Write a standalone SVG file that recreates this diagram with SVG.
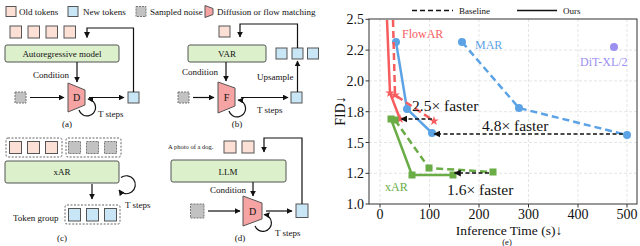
<svg xmlns="http://www.w3.org/2000/svg" width="640" height="246" viewBox="0 0 640 246">
<defs>
<style>
.t{font-family:"Liberation Serif",serif;font-size:9px;fill:#111}
.tc{font-family:"Liberation Serif",serif;font-size:9px;fill:#111;text-anchor:middle}
.old{fill:#fde0d5;stroke:#555;stroke-width:1}
.new{fill:#c8e6f6;stroke:#555;stroke-width:1}
.noise{fill:#c2c2c2;stroke:#777;stroke-width:1;stroke-dasharray:2 1}
.model{fill:#dcf0cc;stroke:#555;stroke-width:1}
.dm{fill:#f5a3a3;stroke:#555;stroke-width:1}
.grp{fill:none;stroke:#666;stroke-width:1;stroke-dasharray:2 1.5}
.ar{fill:none;stroke:#111;stroke-width:1.2;marker-end:url(#ah)}
.grid{stroke:#dedede;stroke-width:0.8;stroke-dasharray:3 2}
.tick{stroke:#333;stroke-width:1}
.ax{font-family:"Liberation Serif",serif;font-size:14px;fill:#111}
.axl{font-family:"Liberation Serif",serif;font-size:13.5px;fill:#111}
.big{font-family:"Liberation Serif",serif;font-size:15.5px;fill:#111}
.lab{font-family:"Liberation Serif",serif;font-size:12px}
.red{stroke:#f65d5f;stroke-width:2.5;fill:none}
.blue{stroke:#5ca3e6;stroke-width:2.5;fill:none}
.green{stroke:#6aac46;stroke-width:2.5;fill:none}
.dash{stroke-dasharray:7 4}
.carr{fill:none;stroke:#111;stroke-width:1.3;stroke-dasharray:4 2.5;marker-end:url(#ah2)}
</style>
<marker id="ah" viewBox="0 0 10 10" refX="9" refY="5" markerWidth="6" markerHeight="6" markerUnits="userSpaceOnUse" orient="auto"><path d="M0,0 L10,5 L0,10 z" fill="#111"/></marker>
<marker id="ah2" viewBox="0 0 10 10" refX="9" refY="5" markerWidth="7" markerHeight="7" markerUnits="userSpaceOnUse" orient="auto"><path d="M0,0 L10,5 L0,10 z" fill="#111"/></marker>
<path id="star" d="M0,-5 L1.18,-1.62 L4.76,-1.55 L1.9,0.62 L2.94,4.05 L0,2 L-2.94,4.05 L-1.9,0.62 L-4.76,-1.55 L-1.18,-1.62 Z"/>
</defs>

<!-- Legend -->
<g id="legend">
<rect class="old" x="6" y="6.5" width="10" height="10"/>
<text class="t" x="19" y="14.5">Old tokens</text>
<rect class="new" x="68" y="6.5" width="10" height="10"/>
<text class="t" x="83" y="14.5">New tokens</text>
<rect class="noise" x="136" y="6.5" width="10" height="10"/>
<text class="t" x="150" y="14.5">Sampled noise</text>
<polygon class="dm" points="205,5.5 213,8.5 213,14.5 205,17.5"/>
<text class="t" x="217" y="14.5">Diffusion or flow matching</text>
</g>

<!-- (a) -->
<g id="a-old-tokens">
<rect class="old" x="10" y="26" width="11.5" height="12"/>
<rect class="old" x="28" y="26" width="11.5" height="12"/>
<rect class="old" x="46" y="26" width="11.5" height="12"/>
<rect class="old" x="64" y="26" width="11.5" height="12"/>
</g>
<g id="a-model"><rect class="model" x="5" y="45" width="114" height="17" rx="2"/><text class="tc" x="62" y="57">Autoregressive model</text></g>
<g id="a-noise"><rect class="noise" x="15" y="92" width="11" height="11"/></g>
<g id="a-D"><polygon class="dm" points="68,83 85,90 85,105 68,112"/><text class="tc" x="76.5" y="101" style="font-size:10px">D</text></g>
<g id="a-new"><rect class="new" x="128" y="92" width="11" height="11"/></g>
<text class="t" x="33" y="78">Condition</text>
<text class="t" x="98" y="116.5">T steps</text>
<text class="tc" x="67" y="127">(a)</text>

<!-- (b) -->
<g id="b-old"><rect class="old" x="219" y="26" width="11" height="11"/></g>
<g id="b-model"><rect class="model" x="188" y="45" width="78" height="17" rx="2"/><text class="tc" x="227" y="57">VAR</text></g>
<g id="b-new-row">
<rect class="new" x="276" y="48" width="11" height="11"/>
<rect class="new" x="292" y="48" width="11" height="11"/>
<rect class="new" x="307.5" y="48" width="11" height="11"/>
</g>
<g id="b-noise"><rect class="noise" x="178" y="92" width="11" height="11"/></g>
<g id="b-F"><polygon class="dm" points="218,82 235,88 235,106 218,113"/><text class="tc" x="226.5" y="101" style="font-size:10px">F</text></g>
<g id="b-new"><rect class="new" x="291" y="92" width="11" height="11"/></g>
<text class="t" x="182" y="75">Condition</text>
<text class="t" x="257" y="80">Upsample</text>
<text class="t" x="257" y="113">T steps</text>
<text class="tc" x="237" y="127">(b)</text>

<!-- (c) -->
<g id="c-input">
<rect class="grp" x="6" y="138" width="56" height="19" rx="2"/>
<rect class="old" x="9.5" y="141.5" width="12" height="12"/>
<rect class="old" x="27.5" y="141.5" width="12" height="12"/>
<rect class="old" x="45.5" y="141.5" width="12" height="12"/>
<rect class="grp" x="66" y="138" width="55" height="19" rx="2"/>
<rect class="noise" x="68.5" y="141.5" width="12" height="12"/>
<rect class="noise" x="86.5" y="141.5" width="12" height="12"/>
<rect class="noise" x="104.5" y="141.5" width="12" height="12"/>
</g>
<g id="c-model"><rect class="model" x="5" y="161" width="114" height="22" rx="2"/><text class="tc" x="62" y="175">xAR</text></g>
<g id="c-group">
<rect class="grp" x="65" y="205" width="55" height="19" rx="2"/>
<rect class="new" x="68.5" y="208.5" width="12" height="12.5"/>
<rect class="new" x="86.5" y="208.5" width="12" height="12.5"/>
<rect class="new" x="104.5" y="208.5" width="12" height="12.5"/>
</g>
<text class="t" x="125" y="208">T steps</text>
<text class="t" x="13" y="221">Token group</text>
<text class="tc" x="62" y="241">(c)</text>

<!-- (d) -->
<text class="t" x="168" y="149" style="font-size:6.5px">A photo of a dog.</text>
<g id="d-old">
<rect class="old" x="224" y="141" width="12" height="12"/>
<rect class="old" x="242" y="141" width="12" height="12"/>
</g>
<g id="d-model"><rect class="model" x="171" y="160" width="115" height="22" rx="2"/><text class="tc" x="228" y="175">LLM</text></g>
<g id="d-noise"><rect class="noise" x="190.5" y="204" width="13.5" height="14"/></g>
<g id="d-D"><polygon class="dm" points="243,196 262,203 262,219 243,226"/><text class="tc" x="252.5" y="215" style="font-size:10px">D</text></g>
<g id="d-new"><rect class="new" x="296" y="204" width="12" height="13.5"/></g>
<text class="t" x="210" y="193">Condition</text>
<text class="t" x="275" y="236">T steps</text>
<text class="tc" x="240" y="241">(d)</text>

<!-- connectors -->
<g id="connectors">
<path class="ar" d="M133.5,92 V28 H87 V37.5"/>
<path class="ar" d="M77,62 V82"/>
<path class="ar" d="M30,97.5 H64"/>
<path class="ar" d="M89,97.5 H124"/>
<path class="ar" d="M79,110 A8.5,8.5 0 1 0 88,99"/>

<path class="ar" d="M297.5,48 V24 H240 V37"/>
<path class="ar" d="M226,62 V81"/>
<path class="ar" d="M193,97.5 H214"/>
<path class="ar" d="M241,97.5 H288"/>
<path class="ar" d="M297.5,92 V61"/>
<path class="ar" d="M229,111 A8.5,8.5 0 1 0 238,100"/>

<path class="ar" d="M92,184 V199"/>
<path class="ar" d="M121,177.5 A9,9 0 1 1 119,190"/>

<path class="ar" d="M302,204 V138 H264 V152"/>
<path class="ar" d="M253,182 V196"/>
<path class="ar" d="M208,211 H240"/>
<path class="ar" d="M266,211 H292"/>
<path class="ar" d="M255,226 A8.5,8.5 0 1 0 264,214.5"/>
</g>

<!-- (e) chart -->
<g id="chart">
<g id="grid">
<line class="grid" x1="380" y1="19" x2="380" y2="204"/>
<line class="grid" x1="429.5" y1="19" x2="429.5" y2="204"/>
<line class="grid" x1="479" y1="19" x2="479" y2="204"/>
<line class="grid" x1="528.5" y1="19" x2="528.5" y2="204"/>
<line class="grid" x1="578" y1="19" x2="578" y2="204"/>
<line class="grid" x1="627" y1="19" x2="627" y2="204"/>
<line class="grid" x1="369" y1="50.1" x2="637" y2="50.1"/>
<line class="grid" x1="369" y1="80.9" x2="637" y2="80.9"/>
<line class="grid" x1="369" y1="111.7" x2="637" y2="111.7"/>
<line class="grid" x1="369" y1="142.5" x2="637" y2="142.5"/>
<line class="grid" x1="369" y1="173.3" x2="637" y2="173.3"/>
</g>
<g id="ticks">
<line class="tick" x1="365.5" y1="19.3" x2="369" y2="19.3"/>
<line class="tick" x1="365.5" y1="50.1" x2="369" y2="50.1"/>
<line class="tick" x1="365.5" y1="80.9" x2="369" y2="80.9"/>
<line class="tick" x1="365.5" y1="111.7" x2="369" y2="111.7"/>
<line class="tick" x1="365.5" y1="142.5" x2="369" y2="142.5"/>
<line class="tick" x1="365.5" y1="173.3" x2="369" y2="173.3"/>
<line class="tick" x1="365.5" y1="204" x2="369" y2="204"/>
<line class="tick" x1="380" y1="204" x2="380" y2="207.5"/>
<line class="tick" x1="429.5" y1="204" x2="429.5" y2="207.5"/>
<line class="tick" x1="479" y1="204" x2="479" y2="207.5"/>
<line class="tick" x1="528.5" y1="204" x2="528.5" y2="207.5"/>
<line class="tick" x1="578" y1="204" x2="578" y2="207.5"/>
<line class="tick" x1="627" y1="204" x2="627" y2="207.5"/>
</g>
<g id="ylabels" class="ax" text-anchor="end">
<text x="364" y="24">2.5</text>
<text x="364" y="55">2.2</text>
<text x="364" y="86">2.0</text>
<text x="364" y="116.5">1.8</text>
<text x="364" y="147.5">1.5</text>
<text x="364" y="178">1.2</text>
<text x="364" y="209">1.0</text>
</g>
<g id="xlabels" class="ax" text-anchor="middle">
<text x="380" y="218.5">0</text>
<text x="429.5" y="218.5">100</text>
<text x="479" y="218.5">200</text>
<text x="528.5" y="218.5">300</text>
<text x="578" y="218.5">400</text>
<text x="627" y="218.5">500</text>
</g>
<text class="ax" x="0" y="0" text-anchor="middle" transform="translate(345,111) rotate(-90)">FID↓</text>
<text class="axl" x="509" y="234.5" text-anchor="middle">Inference Time (s)↓</text>
<text class="tc" x="507" y="245" style="font-size:8.5px">(e)</text>

<g id="chart-legend">
<line x1="412" y1="10.5" x2="453" y2="10.5" stroke="#111" stroke-width="1.5" stroke-dasharray="5 3"/>
<text class="t" x="459" y="14">Baseline</text>
<line x1="517" y1="10.5" x2="557" y2="10.5" stroke="#111" stroke-width="1.5"/>
<text class="t" x="563" y="14">Ours</text>
</g>

<g id="series">
<!-- MAR -->
<polyline class="blue dash" points="462,42 519,108 627,135"/>
<circle cx="462" cy="42" r="4" fill="#5ca3e6"/>
<circle cx="519" cy="108" r="4" fill="#5ca3e6"/>
<circle cx="627" cy="135" r="4" fill="#5ca3e6"/>
<polyline class="blue" points="396,42 407,109 432,133"/>
<circle cx="396" cy="42" r="4" fill="#5ca3e6"/>
<circle cx="407" cy="109" r="4" fill="#5ca3e6"/>
<circle cx="432" cy="133" r="4" fill="#5ca3e6"/>
<!-- FlowAR -->
<polyline class="red dash" points="393,20 395,95 434,121"/>
<polyline class="red" points="387,20 390,93 400,119"/>
<use href="#star" x="395" y="95" fill="#f65d5f"/>
<use href="#star" x="434" y="121" fill="#f65d5f"/>
<use href="#star" x="390" y="93" fill="#f65d5f"/>
<use href="#star" x="400" y="119" fill="#f65d5f"/>
<!-- xAR -->
<polyline class="green dash" points="395,120 429,168 493,172"/>
<polyline class="green" points="391,119 412,175 453,175"/>
<rect x="391.5" y="116.5" width="7" height="7" fill="#6aac46"/>
<rect x="425.5" y="164.5" width="7" height="7" fill="#6aac46"/>
<rect x="489.5" y="168.5" width="7" height="7" fill="#6aac46"/>
<rect x="387.5" y="115.5" width="7" height="7" fill="#6aac46"/>
<rect x="408.5" y="171.5" width="7" height="7" fill="#6aac46"/>
<rect x="449.5" y="171.5" width="7" height="7" fill="#6aac46"/>
<!-- DiT -->
<circle cx="614" cy="47" r="4" fill="#9b8ff0"/>
</g>

<g id="speedups">
<path class="carr" d="M432,119 H401"/>
<path class="carr" d="M623,134 H434"/>
<path class="carr" d="M489,173 H454.5"/>
</g>

<rect x="369" y="19" width="268" height="185" fill="none" stroke="#333" stroke-width="1"/>

<text class="lab" x="402" y="38" fill="#f65d5f">FlowAR</text>
<text class="lab" x="475" y="49" fill="#5ca3e6">MAR</text>
<text class="lab" x="580" y="66" fill="#9b8ff0">DiT-XL/2</text>
<text class="lab" x="385" y="191" fill="#6aac46">xAR</text>
<text class="big" x="412" y="111">2.5× faster</text>
<text class="big" x="482" y="131">4.8× faster</text>
<text class="big" x="447" y="195">1.6× faster</text>
</g>
</svg>
